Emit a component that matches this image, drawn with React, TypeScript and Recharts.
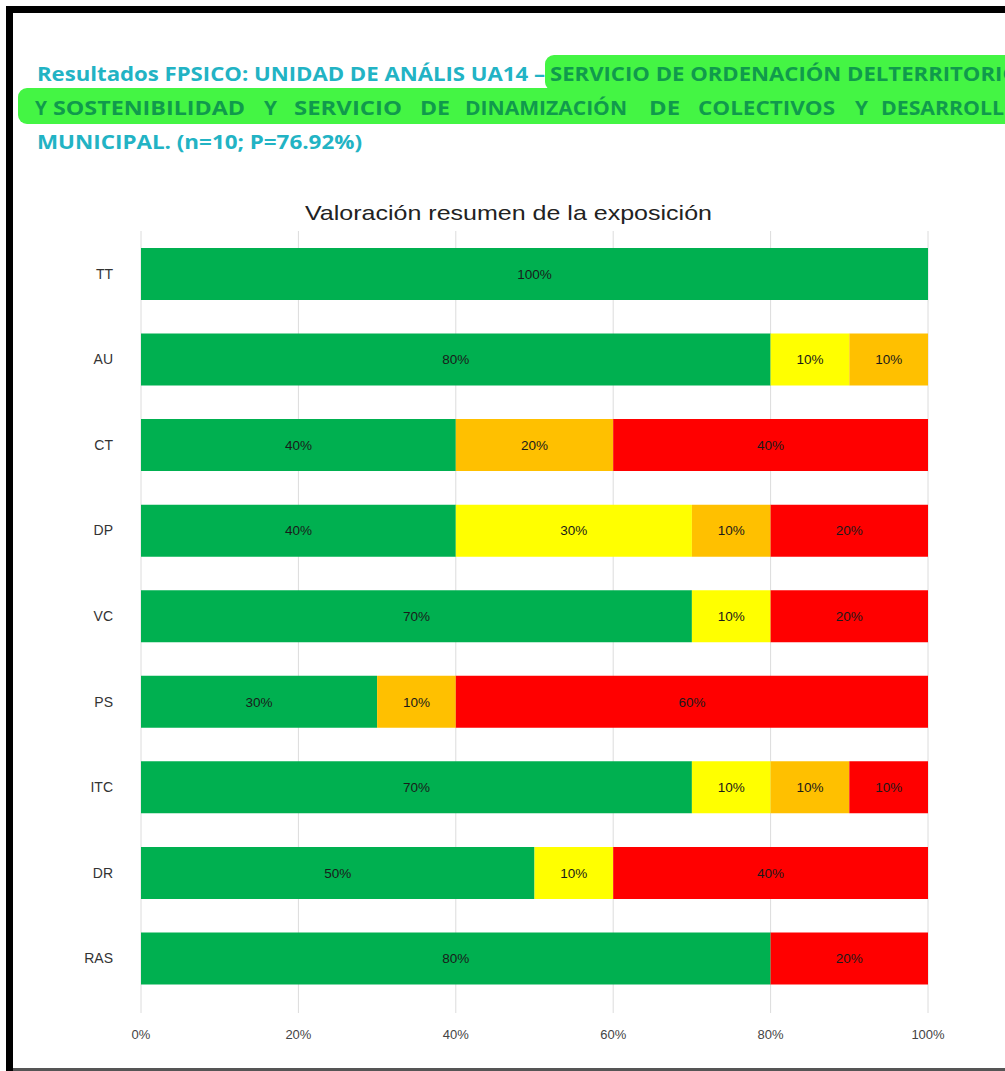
import React from 'react';
import { BarChart, Bar, XAxis, YAxis, CartesianGrid, LabelList } from 'recharts';

const categories = ['TT', 'AU', 'CT', 'DP', 'VC', 'PS', 'ITC', 'DR', 'RAS'];
const greenVals = [100, 80, 40, 40, 70, 30, 70, 50, 80];
const yellowVals = [0, 10, 0, 30, 10, 0, 10, 10, 0];
const orangeVals = [0, 10, 20, 10, 0, 10, 10, 0, 0];
const redVals = [0, 0, 40, 20, 20, 60, 10, 40, 20];
const xTicks = [0, 20, 40, 60, 80, 100];

const chartTitle = 'Valoración resumen de la exposición';
const headLine1a = 'Resultados FPSICO: UNIDAD DE ANÁLIS UA14 –';
const headLine1b = 'SERVICIO DE ORDENACIÓN DELTERRITORIO';
const headLine2Words = ['Y', 'SOSTENIBILIDAD', 'Y', 'SERVICIO', 'DE', 'DINAMIZACIÓN', 'DE', 'COLECTIVOS', 'Y', 'DESARROLLO'];
const headLine3 = 'MUNICIPAL. (n=10; P=76.92%)';

const data = categories.map((c, i) => ({
  cat: c,
  verde: greenVals[i],
  amarillo: yellowVals[i],
  naranja: orangeVals[i],
  rojo: redVals[i],
}));

// layout of justified words (x start, width)
const line2Pos: [number, number][] = [
  [35, 12], [53, 192], [264, 13], [294, 108], [420, 30], [465, 162], [649, 31], [698, 137], [855, 13], [881, 140],
];

const fmt = (v: any) => (Number(v) > 0 ? `${v}%` : '');

const labelStyle = { fontSize: 13.5, fill: '#1a1a1a', fontFamily: 'Liberation Sans, Arial, sans-serif' };

export default function App() {
  const teal = '#22b3c4';
  const hlText = '#109a4c';
  const hl = '#44f544';
  const headFont = "'Open Sans', sans-serif";
  return (
    <div style={{ position: 'absolute', left: 0, top: 0, width: 1005, height: 1071, background: '#fff', overflow: 'hidden' }}>
      {/* frame */}
      <div style={{ position: 'absolute', left: 6, top: 6, width: 7, height: 1065, background: '#000' }} />
      <div style={{ position: 'absolute', left: 6, top: 6, width: 999, height: 7, background: '#000' }} />
      <div style={{ position: 'absolute', left: 13, top: 1068, width: 992, height: 3, background: '#555' }} />
      <svg width={1005} height={240} style={{ position: 'absolute', left: 0, top: 0 }}>
        <rect x={545} y={55} width={480} height={36} rx={9} fill={hl} />
        <rect x={18} y={88} width={1010} height={36} rx={9} fill={hl} />
        <text x={37} y={81} fontFamily={headFont} fontWeight={700} fontSize={20} fill={teal} textLength={508} lengthAdjust="spacingAndGlyphs">{headLine1a}</text>
        <text x={550} y={81} fontFamily={headFont} fontWeight={700} fontSize={20} fill={hlText} textLength={470} lengthAdjust="spacingAndGlyphs">{headLine1b}</text>
        {headLine2Words.map((w, i) => (
          <text key={i} x={line2Pos[i][0]} y={115} fontFamily={headFont} fontWeight={700} fontSize={20} fill={hlText} textLength={line2Pos[i][1]} lengthAdjust="spacingAndGlyphs">{w}</text>
        ))}
        <text x={37} y={149} fontFamily={headFont} fontWeight={700} fontSize={20} fill={teal} textLength={325} lengthAdjust="spacingAndGlyphs">{headLine3}</text>
        <text x={305} y={220} fontFamily="Liberation Sans, Arial, sans-serif" fontSize={21} fill="#222" textLength={407} lengthAdjust="spacingAndGlyphs">{chartTitle}</text>
      </svg>
      <div style={{ position: 'absolute', left: 0, top: 180 }}>
        <BarChart
          width={1005}
          height={891}
          data={data}
          layout="vertical"
          margin={{ top: 51, right: 77, bottom: 30, left: 0 }}
          barSize={52}
        >
          <CartesianGrid horizontal={false} vertical stroke="#dcdcdc" />
          <XAxis
            type="number"
            domain={[0, 100]}
            ticks={xTicks}
            tickFormatter={(v: number) => `${v}%`}
            axisLine={false}
            tickLine={{ stroke: '#dcdcdc' }}
            tickSize={12}
            tickMargin={17}
            height={40}
            tick={{ fontSize: 13, fill: '#444', fontFamily: 'Liberation Sans, Arial, sans-serif' }}
            interval={0}
          />
          <YAxis
            type="category"
            dataKey="cat"
            width={141}
            axisLine={false}
            tickLine={false}
            tickSize={0}
            tickMargin={28}
            tick={{ fontSize: 14, fill: '#333', fontFamily: 'Liberation Sans, Arial, sans-serif' }}
          />
          <Bar dataKey="verde" stackId="a" fill="#00b050" isAnimationActive={false}>
            <LabelList dataKey="verde" position="center" formatter={fmt} style={labelStyle} />
          </Bar>
          <Bar dataKey="amarillo" stackId="a" fill="#ffff00" isAnimationActive={false}>
            <LabelList dataKey="amarillo" position="center" formatter={fmt} style={labelStyle} />
          </Bar>
          <Bar dataKey="naranja" stackId="a" fill="#ffc000" isAnimationActive={false}>
            <LabelList dataKey="naranja" position="center" formatter={fmt} style={labelStyle} />
          </Bar>
          <Bar dataKey="rojo" stackId="a" fill="#ff0000" isAnimationActive={false}>
            <LabelList dataKey="rojo" position="center" formatter={fmt} style={labelStyle} />
          </Bar>
        </BarChart>
      </div>
    </div>
  );
}
